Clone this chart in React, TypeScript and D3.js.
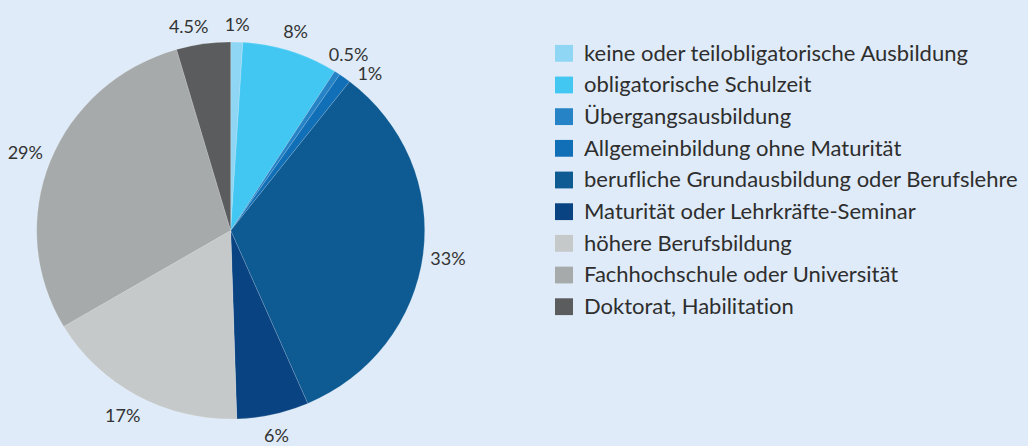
import React from "react";
import * as d3 from "d3";

const width = 1028;
const height = 446;

// Bildungsstand, Anteile in %
const categories = [
  "keine oder teilobligatorische Ausbildung",
  "obligatorische Schulzeit",
  "Übergangsausbildung",
  "Allgemeinbildung ohne Maturität",
  "berufliche Grundausbildung oder Berufslehre",
  "Maturität oder Lehrkräfte-Seminar",
  "höhere Berufsbildung",
  "Fachhochschule oder Universität",
  "Doktorat, Habilitation",
];
const values = [1, 8, 0.5, 1, 33, 6, 17, 29, 4.5];
const labels = ["1%", "8%", "0.5%", "1%", "33%", "6%", "17%", "29%", "4.5%"];
const colors = [
  "#8fd6f4",
  "#42c7f2",
  "#2683c5",
  "#106fb7",
  "#0e5b93",
  "#0a4381",
  "#c5c9ca",
  "#a7aaab",
  "#5b5c5e",
];
// label placement tweaks: angle nudge (deg) and distance from centre
const labelNudge = [0, 0, 0.5, 5.5, 0, 0, 1.5, -0.6, -3.5];
const labelDist = [207, 210, 212, 210, 219, 210, 214, 220, 209];

const cx = 230.7;
const cy = 230.5;
const radius = 191;
// the original pie is slightly wider than tall
const sx = 194 / 191;
const sy = 188.5 / 191;

export default function App() {
  const pie = d3
    .pie<number>()
    .sort(null)
    .value((d) => d);
  const arcs = pie(values);
  const arc = d3.arc<d3.PieArcDatum<number>>().innerRadius(0).outerRadius(radius);

  const legendY = d3
    .scalePoint<string>()
    .domain(categories)
    .range([53.3, 306.7]);

  const font = "Lato, 'Open Sans', sans-serif";

  return (
    <svg
      width={width}
      height={height}
      style={{
        position: "absolute",
        left: 0,
        top: 0,
        background: "#dfebf8",
        fontVariantLigatures: "none",
      }}
    >
      <g transform={`translate(${cx},${cy}) scale(${sx},${sy})`}>
        {arcs.map((a, i) => (
          <path
            key={i}
            d={arc(a) || ""}
            fill={colors[i]}
            stroke="#ffffff"
            strokeOpacity={0.25}
            strokeWidth={0.6}
          />
        ))}
      </g>
      <g transform={`translate(${cx},${cy})`}>
        {arcs.map((a, i) => {
          const mid = (a.startAngle + a.endAngle) / 2 + (labelNudge[i] * Math.PI) / 180;
          const x = Math.sin(mid) * labelDist[i];
          const y = -Math.cos(mid) * labelDist[i];
          return (
            <text
              key={i}
              x={x}
              y={y}
              textAnchor="middle"
              dominantBaseline="central"
              fontFamily={font}
              fontSize={18}
              fill="#333333"
            >
              {labels[i]}
            </text>
          );
        })}
      </g>
      <g>
        {categories.map((c, i) => (
          <g key={c} transform={`translate(555,${legendY(c)})`}>
            <rect x={0} y={-8.4} width={18} height={16.8} fill={colors[i]} />
            <text
              x={29}
              y={7.4}
              fontFamily={font}
              fontSize={22}
              fill="#2e2e2e"
            >
              {c}
            </text>
          </g>
        ))}
      </g>
    </svg>
  );
}
